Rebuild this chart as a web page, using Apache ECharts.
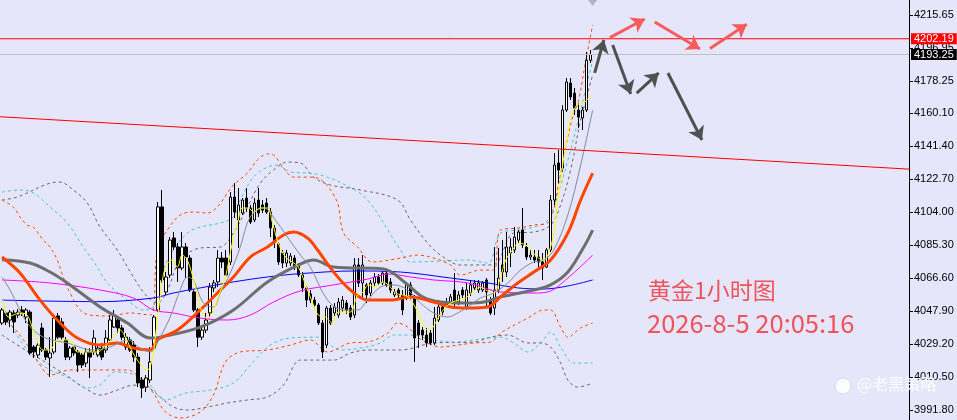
<!DOCTYPE html>
<html><head><meta charset="utf-8">
<script src="https://cdn.jsdelivr.net/npm/echarts@6/dist/echarts.min.js"></script>
<style>html,body{margin:0;padding:0;background:#E6E6FA;}#c{width:957px;height:420px;}</style>
</head><body><div id="c"></div>
<script>
// ---- candle values (XAUUSD H1) ----
const opens = [4041.1,4046.8,4042.8,4046.8,4045.6,4048.5,4044.5,4047.3,4027.5,4023.0,
4038.3,4025.8,4021.3,4024.7,4045.1,4041.7,4031.5,4021.8,4027.5,4024.7,
4023.0,4018.4,4024.7,4024.7,4023.0,4026.9,4025.8,4031.5,4038.8,4042.8,
4038.3,4027.5,4031.5,4028.6,4021.8,4008.8,4004.8,4008.8,4026.9,4048.5,
4106.9,4058.7,4068.3,4089.3,4084.2,4072.3,4084.2,4077.9,4058.7,4048.5,
4033.1,4037.1,4046.8,4061.0,4064.4,4077.9,4077.9,4075.7,4112.5,4099.5,
4103.4,4111.9,4106.3,4099.5,4110.8,4108.0,4109.1,4104.0,4094.9,4085.9,
4080.8,4075.1,4075.1,4077.9,4074.0,4068.3,4061.0,4057.6,4054.1,4051.3,
4041.1,4028.6,4049.6,4046.8,4045.6,4049.6,4052.4,4049.6,4045.6,4074.0,
4063.8,4062.7,4058.1,4063.8,4067.2,4063.8,4069.4,4064.4,4057.0,4059.8,
4057.0,4055.3,4062.7,4055.9,4041.1,4037.1,4034.3,4035.4,4029.8,4042.8,
4050.2,4051.3,4053.0,4059.8,4053.0,4059.8,4050.2,4058.1,4061.0,4059.8,
4059.8,4065.5,4054.1,4049.6,4059.8,4074.0,4070.0,4080.8,4082.5,4088.1,
4093.8,4084.2,4078.5,4078.5,4078.5,4075.7,4072.8,4082.5,4110.8,4131.8,
4128.9,4161.8,4177.1,4171.4,4161.8,4157.3,4161.8,4190.0];
const closes = [4048.5,4041.7,4047.3,4041.7,4047.3,4046.8,4048.5,4024.1,4024.7,4028.6,
4025.8,4021.8,4024.1,4043.9,4033.1,4033.1,4021.8,4026.9,4024.1,4017.3,
4017.3,4024.7,4021.8,4032.6,4026.9,4021.8,4032.6,4042.8,4045.6,4038.3,
4033.1,4033.1,4025.8,4021.8,4007.1,4004.3,4009.9,4019.0,4044.5,4106.9,
4065.5,4067.2,4088.1,4084.2,4072.3,4084.2,4078.5,4059.8,4048.5,4033.1,
4037.1,4042.8,4061.5,4063.8,4077.9,4075.7,4068.3,4112.5,4104.0,4108.0,
4110.8,4106.3,4098.3,4109.1,4103.4,4105.1,4104.0,4094.9,4087.0,4075.7,
4075.1,4080.8,4079.1,4072.8,4068.3,4061.0,4054.1,4054.1,4051.3,4041.1,
4024.7,4049.6,4041.1,4050.2,4053.0,4054.1,4048.5,4044.5,4074.0,4063.8,
4074.0,4057.0,4063.8,4067.2,4063.8,4069.4,4062.7,4059.8,4058.7,4057.0,
4048.5,4062.7,4057.0,4032.6,4034.3,4034.3,4029.8,4029.8,4043.9,4050.2,
4047.3,4053.0,4055.9,4053.0,4057.0,4057.0,4059.8,4062.7,4063.8,4063.8,
4063.8,4058.7,4046.8,4059.8,4066.6,4070.0,4084.2,4084.2,4089.8,4092.7,
4085.3,4078.5,4079.6,4076.8,4075.7,4072.3,4082.5,4110.8,4130.6,4127.8,
4161.8,4177.7,4169.2,4162.9,4157.8,4161.8,4190.0,4193.25];
const lows = [4040.0,4040.0,4038.8,4035.4,4043.9,4045.1,4041.1,4023.0,4021.3,4021.3,
4024.7,4020.1,4010.5,4023.5,4032.0,4031.5,4020.1,4020.1,4022.4,4013.4,
4015.6,4016.2,4009.9,4023.0,4021.8,4020.1,4024.1,4030.3,4038.3,4035.4,
4031.5,4025.8,4024.7,4019.0,4004.8,3998.6,4002.0,4007.1,4025.8,4047.3,
4063.8,4057.0,4066.6,4082.5,4064.4,4071.1,4066.6,4058.7,4047.3,4027.5,
4031.5,4035.4,4044.5,4058.7,4061.5,4072.3,4067.2,4074.0,4100.6,4083.6,
4102.3,4104.0,4097.2,4098.3,4101.2,4103.4,4102.9,4089.8,4083.6,4074.0,
4072.3,4072.8,4073.4,4071.1,4067.2,4058.7,4050.2,4052.4,4049.6,4040.0,
4021.3,4026.9,4040.0,4045.1,4043.9,4047.3,4046.2,4042.8,4043.9,4061.5,
4055.9,4052.4,4056.4,4062.1,4062.7,4062.7,4061.5,4058.1,4055.9,4055.3,
4045.6,4054.1,4054.1,4019.0,4026.9,4031.5,4027.5,4028.6,4028.6,4041.7,
4045.6,4050.2,4051.9,4050.2,4051.3,4055.3,4048.5,4056.4,4059.8,4058.1,
4058.7,4050.2,4045.6,4045.6,4058.1,4064.4,4067.2,4072.8,4080.8,4086.4,
4083.6,4076.8,4076.8,4075.1,4071.1,4065.5,4072.3,4081.3,4108.0,4120.4,
4126.6,4160.7,4167.5,4159.0,4151.6,4150.5,4160.7,4188.5];
const highs = [4049.6,4047.9,4048.5,4048.5,4049.0,4050.7,4049.6,4048.5,4028.6,4029.8,
4041.1,4026.9,4033.1,4045.6,4046.8,4043.9,4033.1,4028.1,4028.6,4025.8,
4024.1,4026.9,4026.9,4037.1,4028.6,4029.8,4037.1,4045.6,4048.5,4044.5,
4040.0,4035.4,4033.1,4030.9,4024.1,4010.5,4011.6,4027.5,4045.6,4109.7,
4116.5,4070.0,4089.8,4092.7,4086.4,4092.7,4086.4,4079.6,4059.8,4049.6,
4038.8,4046.8,4063.8,4065.5,4082.5,4081.3,4082.5,4115.3,4120.4,4117.6,
4111.9,4117.6,4108.0,4111.9,4117.6,4110.8,4111.9,4106.3,4096.6,4087.0,
4082.5,4082.5,4080.8,4079.6,4075.1,4070.0,4062.1,4059.8,4055.9,4052.4,
4042.8,4050.7,4051.3,4052.4,4055.3,4056.4,4054.1,4051.3,4077.9,4077.9,
4079.6,4063.8,4065.5,4069.4,4068.9,4070.6,4070.6,4066.6,4060.4,4061.0,
4059.8,4063.8,4064.4,4057.0,4042.8,4038.8,4038.3,4037.1,4050.2,4054.1,
4052.4,4055.3,4057.6,4069.4,4059.3,4061.5,4063.8,4065.5,4065.5,4065.5,
4064.9,4066.6,4055.9,4084.2,4083.6,4088.1,4092.7,4089.3,4095.5,4093.8,
4106.3,4086.4,4082.5,4082.5,4082.5,4080.8,4083.6,4113.6,4137.4,4139.1,
4164.6,4179.9,4179.9,4174.3,4165.8,4163.5,4194.7,4195.8];

// ---- axis tick labels ----
const priceTicks = [3991.80,4010.50,4029.20,4047.90,4066.60,4085.30,4104.00,4122.70,4141.40,4160.10,4178.25,4196.95,4215.65];

// ---- horizontal levels and trend line ----
const resistanceLevel = 4202.19;
const bidLevel = 4193.25;
const trendLine = [[-0.5, 4158.0], [226.5, 4128.3]];

// ---- indicator lines, read as [bar index, price] ----
const maYellow = [[0.3,4054.1],[1.5,4044.5],[2.8,4045.6],[4.5,4046.8],[6.3,4045.6],[7.8,4037.1],[10.3,4025.8],[12,4025.8],[13.8,4031.5],[15.3,4031.5],[17,4031.5],[18.8,4024.7],[21.3,4024.7],[23.8,4024.7],[25.3,4026.9],[27.8,4033.1],[29.5,4037.1],[30.8,4033.1],[33.3,4021.8],[36.3,4014.5],[37.5,4020.1],[38.3,4033.1],[39.5,4055.9],[40.8,4072.8],[42.5,4076.8],[43.8,4072.8],[45,4079.6],[46.3,4076.8],[48.3,4061.5],[50,4046.8],[51.3,4043.9],[52.5,4046.8],[54,4055.9],[55.8,4067.2],[57.5,4086.4],[59,4099.5],[60,4106.3],[61.5,4106.3],[62.8,4104.0],[64.5,4106.3],[66.3,4106.3],[67.5,4098.3],[69,4086.4],[70.8,4078.5],[72.5,4075.7],[74,4072.8],[75.8,4062.7],[77.5,4053.0],[79,4045.6],[80.8,4044.5],[82.5,4041.1],[84,4047.3],[85.8,4047.3],[87,4047.3],[88.8,4057.0],[90,4058.1],[91.5,4062.7],[93.3,4061.5],[95,4064.4],[96.5,4062.7],[98.3,4058.1],[100,4057.0],[101.5,4055.9],[103.3,4049.6],[105,4041.1],[106.3,4037.1],[107.5,4038.3],[109,4044.5],[110.8,4050.2],[112.5,4053.0],[114,4054.1],[115.8,4055.3],[117.5,4058.7],[119.5,4061.5],[120.8,4059.8],[122.8,4058.1],[124.5,4067.2],[125.8,4076.8],[127.5,4082.5],[129,4086.4],[130.8,4085.3],[132.5,4081.3],[134,4077.9],[135.3,4076.8],[136.5,4080.8],[137.8,4092.1],[138.8,4110.8],[141.8,4155.0],[143.5,4164.6],[145.3,4165.8],[147,4170.3]];
const maThinGrey = [[0,4067.2],[2,4059.8],[6.3,4041.1],[10.3,4033.1],[16.3,4029.8],[22.8,4025.8],[27,4027.5],[31.3,4031.5],[34.5,4026.9],[37,4024.7],[39.5,4033.1],[42,4044.5],[44.5,4059.8],[46.3,4067.2],[47.8,4065.5],[50.3,4052.4],[52.8,4050.2],[54.5,4058.1],[57,4069.4],[59.5,4084.2],[62,4101.2],[65.3,4106.3],[68.8,4097.8],[71.3,4089.8],[74.5,4079.6],[77,4072.8],[81.3,4054.1],[85.3,4048.5],[88.8,4048.5],[91.3,4054.1],[94.5,4061.5],[97.8,4062.7],[101.3,4059.8],[104.5,4052.4],[107.8,4046.8],[111.3,4044.5],[113.8,4046.8],[116.3,4050.2],[119.5,4055.3],[122.8,4058.1],[126.3,4063.8],[129.5,4071.1],[132.8,4075.7],[135.3,4076.8],[137.8,4082.5],[141.3,4102.3],[144.5,4130.6],[147.5,4161.8]];
const maOrange = [[0,4078.5],[4.5,4069.4],[9.5,4054.1],[14.5,4041.1],[18.8,4032.6],[24.5,4028.6],[28.8,4029.8],[32.8,4026.9],[37,4025.8],[38.8,4031.5],[43.8,4037.1],[49.5,4048.5],[53.8,4058.1],[57.8,4067.2],[62,4078.5],[66.3,4084.2],[70.3,4091.0],[72.8,4092.7],[76.3,4089.3],[78.8,4082.5],[82.8,4070.0],[87,4059.8],[91.3,4054.1],[97,4054.1],[102,4055.9],[107.8,4053.0],[112,4050.2],[116.3,4049.6],[121.3,4050.2],[124.5,4055.9],[128.8,4063.8],[132.8,4070.0],[137,4076.8],[141.3,4092.1],[144.5,4110.8],[147.5,4126.1]];
const maThickGrey = [[0,4077.0],[7,4075.1],[12,4070.0],[16.3,4063.8],[24.5,4050.2],[31.3,4041.1],[37,4032.6],[39.5,4033.1],[49.5,4038.8],[57.8,4048.5],[66.3,4064.4],[74.5,4074.5],[77.8,4076.8],[82.8,4072.8],[95.3,4071.7],[100.8,4063.8],[105,4055.9],[109.5,4053.0],[116.3,4052.4],[120.3,4053.0],[124.5,4055.9],[132.8,4059.8],[137,4062.7],[141.3,4070.0],[145.3,4084.2],[147.5,4093.8]];
const maBlue = [[0,4054.1],[24.5,4053.2],[37.8,4055.3],[42.8,4058.1],[49.5,4061.0],[57.8,4064.4],[66.3,4067.2],[74.5,4069.1],[88.3,4070.6],[99.5,4070.0],[112,4066.6],[121.3,4063.8],[128.8,4061.0],[135.3,4060.4],[141.3,4062.1],[147.5,4065.5]];
const maMagenta = [[0,4065.5],[12,4063.8],[24.5,4059.8],[32.8,4055.3],[37.8,4048.5],[42.8,4046.8],[49.5,4043.9],[56.3,4042.8],[62,4045.6],[67.8,4053.0],[74.5,4059.3],[82.8,4062.7],[91.3,4066.0],[96.5,4068.9],[102,4067.2],[107.8,4065.5],[116.3,4063.8],[124.5,4058.7],[132.8,4058.1],[136.3,4058.7],[141.3,4066.6],[147.5,4079.6]];
const bandOrangeUp = [[0,4110.8],[2.8,4106.9],[4.5,4101.2],[6.3,4096.6],[7.8,4095.5],[10.3,4088.1],[12,4084.2],[13.8,4076.8],[15.3,4067.2],[17,4058.1],[19.5,4048.5],[22,4045.6],[27,4045.1],[32,4046.8],[37,4045.6],[38.8,4082.5],[41.3,4093.8],[44.5,4102.3],[47.8,4104.0],[51.3,4103.4],[53.8,4106.9],[56.3,4114.8],[57.8,4119.3],[61.3,4126.1],[63.8,4133.5],[66.3,4136.9],[67.8,4136.3],[70.3,4128.9],[72.8,4123.8],[76.3,4123.8],[78.8,4123.3],[83.5,4110.8],[85.3,4092.1],[88.8,4084.2],[92.5,4075.7],[99.5,4077.9],[103.8,4079.6],[107.8,4077.9],[112,4074.0],[114.5,4068.3],[119.5,4071.1],[122.8,4071.1],[124.5,4093.8],[128.8,4094.9],[132.8,4096.6],[136.3,4097.8],[139.3,4123.3],[140.5,4138.0],[142.3,4156.1],[144,4167.5],[145.8,4190.2],[147.5,4210.0]];
const bandOrangeLow = [[0,4044.0],[2.8,4038.8],[6.3,4028.6],[9.5,4017.3],[12,4011.6],[17,4014.5],[24.5,4014.5],[31.3,4014.5],[34.5,4009.9],[37.8,4001.4],[40.8,3990.7],[44.5,3987.3],[49.5,3990.7],[52.8,4000.3],[55.8,4019.0],[59.5,4024.7],[66.3,4025.8],[72,4028.6],[77,4031.5],[81.3,4024.7],[87,4029.8],[91.3,4030.3],[96.3,4035.4],[98.8,4041.1],[101.3,4038.8],[103.8,4033.1],[106.3,4029.8],[109.5,4027.5],[113.8,4028.6],[117.8,4029.8],[122,4030.3],[124.5,4035.4],[127,4038.8],[131.3,4043.9],[135.3,4048.5],[137,4048.5],[139.5,4038.8],[141.3,4033.1],[144.5,4038.3],[147.5,4041.1]];
const bandCyanUp = [[0,4115.3],[4.5,4116.5],[7.8,4114.8],[12,4106.9],[16.3,4097.8],[20.3,4084.2],[23.8,4072.8],[26.3,4063.8],[31.3,4054.1],[35.3,4048.5],[37.8,4050.2],[39.5,4067.2],[42.8,4082.5],[46.3,4092.1],[49.5,4095.5],[54.5,4097.8],[57.8,4101.2],[59.5,4110.8],[62.8,4123.8],[66.3,4129.5],[68.8,4130.6],[72,4126.6],[76.3,4126.1],[79.5,4125.0],[85.8,4119.3],[91.3,4110.8],[99.5,4082.5],[102,4075.7],[109.5,4076.2],[116.3,4076.8],[121.3,4075.1],[124.5,4092.1],[128.8,4093.8],[132.8,4095.5],[136.3,4099.5],[139.5,4119.3],[142,4139.1],[144.5,4161.8],[147.5,4190.1]];
const bandCyanLow = [[0,4048.5],[2,4041.1],[4.5,4031.5],[7.8,4021.8],[12,4014.5],[16.3,4010.5],[21.3,4004.3],[24.5,4006.0],[28.3,4013.4],[32.5,4012.2],[36.5,4007.1],[40.8,3997.5],[45.8,4001.4],[52,4003.1],[57.8,4007.1],[62,4017.3],[67,4028.6],[72,4032.6],[78.8,4033.1],[84.5,4025.8],[89.5,4026.9],[94.5,4029.8],[97.8,4034.3],[102,4034.3],[107.8,4031.5],[112.8,4030.3],[121.3,4032.6],[124.5,4033.1],[127.8,4029.8],[131.3,4024.7],[134.5,4029.8],[137,4036.0],[139.5,4027.5],[142.8,4018.4],[147.5,4018.4]];
const bandGreyUp = [[0,4110.8],[3.8,4112.5],[12,4120.4],[14.5,4121.0],[17.8,4116.5],[21.3,4109.1],[24.5,4095.5],[28.8,4082.5],[32.8,4067.2],[36.3,4055.9],[38.8,4052.4],[41.3,4059.8],[44.5,4076.8],[49.5,4083.6],[54.5,4084.2],[57.8,4092.1],[61.3,4106.9],[64.5,4120.4],[67.8,4127.8],[71.3,4132.3],[74.5,4131.8],[77.8,4123.8],[82,4119.3],[89.5,4116.5],[98.8,4110.8],[102,4099.5],[106.3,4086.4],[109.5,4079.6],[114.5,4074.0],[121.3,4074.0],[123.8,4075.7],[127.8,4092.1],[132.8,4092.7],[137,4096.6],[139.5,4108.0],[142,4127.8],[144.5,4156.1],[147.5,4181.6]];
const bandGreyLow = [[0,4034.3],[5.8,4025.8],[12,4017.3],[16.3,4011.1],[20.3,4004.8],[24.5,4000.3],[28.8,4003.1],[32.8,4005.9],[36.3,4004.8],[39.5,3999.2],[42.8,3993.5],[46.3,3991.8],[51.3,3993.5],[56.3,3995.8],[61.3,3997.5],[66.3,3999.2],[70.3,4006.0],[74.5,4020.1],[78.8,4020.1],[82.8,4020.1],[87,4024.1],[91.3,4025.8],[99.5,4025.8],[107.8,4029.8],[117.8,4030.3],[122,4033.1],[126.3,4034.3],[131.3,4029.8],[134.5,4029.8],[137,4027.5],[139.5,4018.4],[141.3,4008.8],[143.8,4004.8],[147,4006.6]];

// ---- drawn forecast arrows [from, to] ----
const redArrows = [[[151.8,4202.8],[160.5,4213.4]],[[163,4211.7],[174.3,4196.4]],[[176.8,4196.6],[186,4210.4]]];
const greyArrows = [[[148,4182.9],[150.3,4201.5]],[[152.5,4198.6],[157,4170.9]],[[158.5,4171.4],[164,4182.8]],[[166.3,4182.8],[174.8,4144.8]]];
const askMarker = [[147.5, 4222.4]];

const titleText = '黄金1小时图';
const timeText = '2026-8-5 20:05:16';
const watermark = '@老黑策略';

const slotCount = 227;
const slots = Array.from({length: slotCount}, (_, i) => String(i));
const candleData = opens.map((o, i) => [o, closes[i], lows[i], highs[i]]);
const xMin = -0.5, xMax = slotCount - 0.5;

function ln(data, color, width, dashed, z) {
  return {type: 'line', xAxisIndex: 1, yAxisIndex: 0, data, symbol: 'none', smooth: 0.35,
    silent: true, z: z || 3, lineStyle: {color, width, type: dashed ? [3, 3] : 'solid'}};
}
function level(value, lineColor, boxColor) {
  return {type: 'line', xAxisIndex: 1, yAxisIndex: 0, data: [[xMin, value], [xMax, value]], symbol: 'none',
    z: 5, silent: true, color: lineColor, lineStyle: {color: lineColor, width: 1, type: 'solid'},
    endLabel: {show: true, distance: 2, formatter: value.toFixed(2), color: '#FFFFFF',
      backgroundColor: boxColor, padding: [0, 3, 0, 3], fontSize: 11, fontFamily: 'Liberation Sans'}};
}

const chart = echarts.init(document.getElementById('c'), null, {renderer: 'canvas'});
chart.setOption({
  animation: false,
  backgroundColor: '#E6E6FA',
  grid: {left: 0, right: 48, top: 0, bottom: 0, containLabel: false},
  xAxis: [
    {type: 'category', data: slots, boundaryGap: true, show: false},
    {type: 'value', min: xMin, max: xMax, show: false}
  ],
  yAxis: {
    type: 'value', position: 'right', min: 3986.15, max: 4224.15,
    axisLine: {show: true, onZero: false, lineStyle: {color: '#000', width: 1}},
    axisTick: {show: true, length: 4, customValues: priceTicks, lineStyle: {color: '#000'}},
    axisLabel: {customValues: priceTicks, formatter: v => v.toFixed(2), color: '#000', fontSize: 11,
      fontFamily: 'Liberation Sans', margin: 5},
    splitLine: {show: false}
  },
  series: [
    ln(bandGreyUp, '#666666', 1, true, 2),
    ln(bandGreyLow, '#666666', 1, true, 2),
    ln(bandCyanUp, '#40C8C8', 1, true, 2),
    ln(bandCyanLow, '#40C8C8', 1, true, 2),
    ln(bandOrangeUp, '#FF4500', 1, true, 2),
    ln(bandOrangeLow, '#FF4500', 1, true, 2),
    {type: 'candlestick', xAxisIndex: 0, yAxisIndex: 0, data: candleData, barWidth: 3, z: 3,
      itemStyle: {color: '#FFFFFF', color0: '#000000', borderColor: '#000000', borderColor0: '#000000', borderWidth: 1}},
    ln(maBlue, '#0000FF', 1, false, 4),
    ln(maMagenta, '#FF00FF', 1, false, 4),
    ln(maThickGrey, '#6E6E6E', 3, false, 4),
    ln(maOrange, '#FF4500', 3, false, 4),
    ln(maThinGrey, '#7F8C99', 1, false, 4),
    ln(maYellow, '#FFFF00', 1, false, 5),
    level(bidLevel, '#C0C0C0', '#000000'),
    level(resistanceLevel, '#FF0000', '#FF0000'),
    {type: 'line', xAxisIndex: 1, yAxisIndex: 0, data: trendLine, symbol: 'none', z: 5, silent: true,
      lineStyle: {color: '#FF0000', width: 1, type: 'solid'}},
    {type: 'lines', coordinateSystem: 'cartesian2d', xAxisIndex: 1, yAxisIndex: 0, z: 6, silent: true,
      symbol: ['none', 'arrow'], symbolSize: 13,
      lineStyle: {color: '#F75B5B', width: 3, opacity: 1},
      data: redArrows.map(c => ({coords: c}))},
    {type: 'lines', coordinateSystem: 'cartesian2d', xAxisIndex: 1, yAxisIndex: 0, z: 6, silent: true,
      symbol: ['none', 'arrow'], symbolSize: 13,
      lineStyle: {color: '#505050', width: 3, opacity: 1},
      data: greyArrows.map(c => ({coords: c}))},
    {type: 'scatter', xAxisIndex: 1, yAxisIndex: 0, data: askMarker, symbol: 'triangle', symbolRotate: 180,
      symbolSize: [9, 6], itemStyle: {color: '#A8A8A8'}, z: 6, silent: true}
  ],
  graphic: [
    {type: 'text', left: 648, top: 279, z: 10, style: {text: titleText, fill: '#F0525A', font: '23px "Noto Sans CJK SC"'}},
    {type: 'text', left: 647, top: 311, z: 10, style: {text: timeText, fill: '#F0525A', font: '25.5px "Noto Sans CJK SC"'}},
    {type: 'circle', shape: {cx: 843, cy: 386, r: 8}, z: 10, style: {fill: 'rgba(255,255,255,0.85)', stroke: '#d8d8e8', lineWidth: 1}},
    {type: 'text', left: 857, top: 376, z: 10, style: {text: watermark, fill: 'rgba(255,255,255,0.92)', font: '16px "Noto Sans CJK SC"'}}
  ]
});
</script>
</body></html>
